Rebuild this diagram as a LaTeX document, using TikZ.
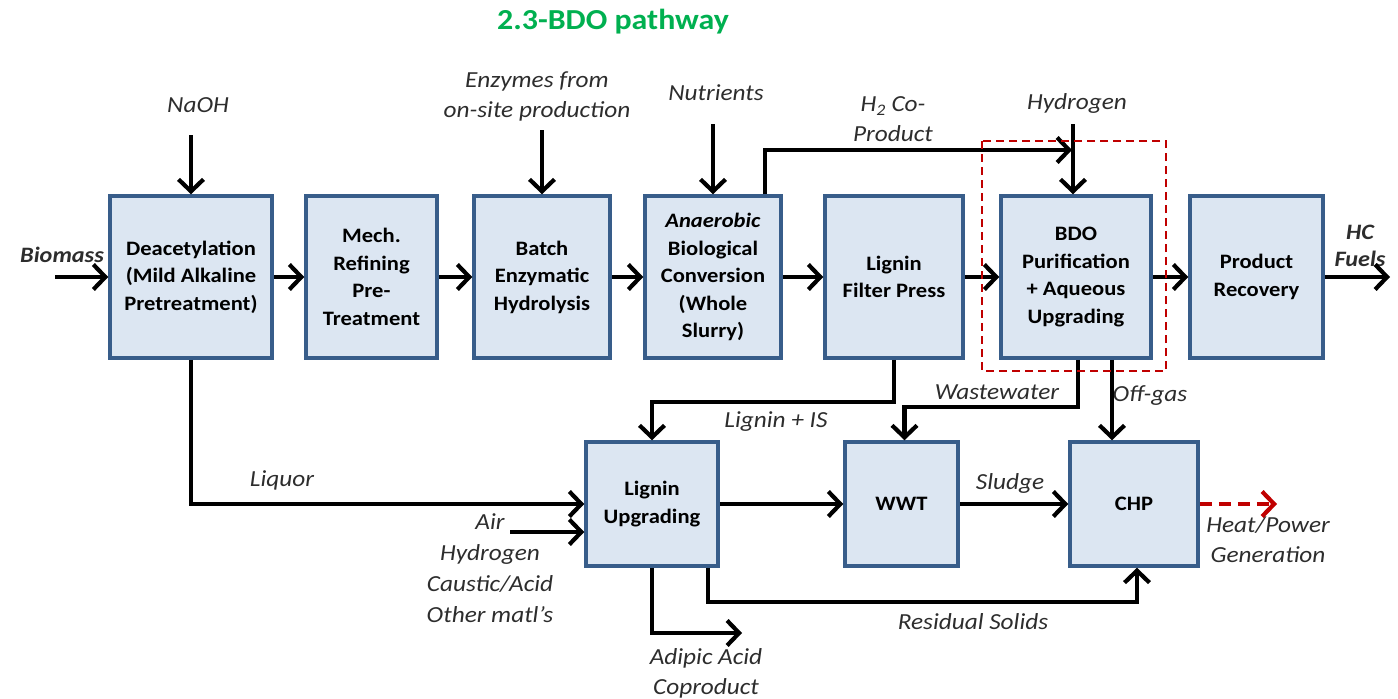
\documentclass[tikz,border=0pt]{standalone}
\usepackage{fontspec}
\setmainfont{Carlito}[FakeStretch=1.1]
\usetikzlibrary{arrows.meta}
\definecolor{boxfill}{RGB}{220,230,242}
\definecolor{boxline}{RGB}{56,93,138}
\definecolor{titlegreen}{RGB}{0,176,80}
\definecolor{lblgray}{RGB}{45,45,45}
\definecolor{dred}{RGB}{192,0,0}
\begin{document}
\begin{tikzpicture}[x=1pt,y=-1pt,
  proc/.style={draw=boxline, fill=boxfill, line width=3.5pt, inner sep=0pt, align=center,
    font=\fontsize{20.5}{27.5}\selectfont\bfseries, text=black},
  lbl/.style={font=\fontsize{23}{30}\selectfont\itshape, text=lblgray, align=center, inner sep=0pt},
  arr/.style={line width=4.2pt, -{Straight Barb[length=12pt,width=25pt]}},
  redarr/.style={dred, line width=4.2pt, dash pattern=on 12pt off 7pt, -{Straight Barb[length=12pt,width=25pt]}},
  reddash/.style={dred, line width=2pt, dash pattern=on 8pt off 5pt}
]
\useasboundingbox (0,0) rectangle (1398,699);

% title
\node[font=\fontsize{29}{32}\selectfont\bfseries, text=titlegreen] (title) at (613,22) {2.3-BDO pathway};

% top row boxes
\node[proc, minimum width=162pt, minimum height=162pt] (deac) at (191,277) {Deacetylation\\(Mild Alkaline\\Pretreatment)};
\node[proc, minimum width=131pt, minimum height=162pt] (mech) at (371.5,277) {Mech.\\Refining\\Pre-\\Treatment};
\node[proc, minimum width=136pt, minimum height=162pt] (batch) at (542,277) {Batch\\Enzymatic\\Hydrolysis};
\node[proc, minimum width=136pt, minimum height=162pt] (anaer) at (713,277) {\textit{Anaerobic}\\Biological\\Conversion\\(Whole\\Slurry)};
\node[proc, minimum width=138pt, minimum height=162pt] (lfp) at (894,277) {Lignin\\Filter Press};
\node[proc, minimum width=150pt, minimum height=162pt] (bdo) at (1076,277) {BDO\\Purification\\+ Aqueous\\Upgrading};
\node[proc, minimum width=133pt, minimum height=162pt] (prod) at (1256.5,277) {Product\\Recovery};

% bottom row boxes
\node[proc, minimum width=132pt, minimum height=124pt] (lup) at (652,504) {Lignin\\Upgrading};
\node[proc, minimum width=113pt, minimum height=124pt] (wwt) at (901.5,504) {WWT};
\node[proc, minimum width=128pt, minimum height=124pt] (chp) at (1134,504) {CHP};

% labels
\node[lbl, font=\fontsize{22}{30}\selectfont\bfseries\itshape] (biomass) at (62,255) {Biomass};
\node[lbl] (naoh) at (198,105) {NaOH};
\node[lbl] (enz) at (537,96) {Enzymes from\\on-site production};
\node[lbl] (nutr) at (716,93) {Nutrients};
\node[lbl] (h2) at (893,119) {H\textsubscript{2} Co-\\Product};
\node[lbl] (hyd) at (1077,103) {Hydrogen};
\node[lbl, font=\fontsize{22}{27}\selectfont\bfseries\itshape] (hc) at (1360,246) {HC\\Fuels};
\node[lbl] (ligis) at (776,422) {Lignin + IS};
\node[lbl] (liquor) at (282,480) {Liquor};
\node[lbl] (ww) at (997,392) {Wastewater};
\node[lbl] (offgas) at (1150,396) {Off-gas};
\node[lbl] (sludge) at (1010,483) {Sludge};
\node[lbl] (heat) at (1268,540) {Heat/Power\\Generation};
\node[lbl, font=\fontsize{23}{31}\selectfont\itshape] (air) at (490,568) {Air\\Hydrogen\\Caustic/Acid\\Other matl's};
\node[lbl] (adipic) at (706,673) {Adipic Acid\\Coproduct};
\node[lbl] (resid) at (973,622) {Residual Solids};

% free ends
\coordinate (bioS) at (55,277);
\coordinate (naohS) at (191,135);
\coordinate (enzS) at (542,130);
\coordinate (nutS) at (713,124);
\coordinate (hydS) at (1073,124);
\coordinate (h2E) at (1072,150);
\coordinate (hcE) at (1390,277);
\coordinate (airS) at (510,532);
\coordinate (adE) at (742,633);
\coordinate (heatE) at (1277,504);

% top row flow
\draw[arr] (bioS) -- (deac.west);
\draw[arr] (deac) -- (mech);
\draw[arr] (mech) -- (batch);
\draw[arr] (batch) -- (anaer);
\draw[arr] (anaer) -- (lfp);
\draw[arr] (lfp) -- (bdo);
\draw[arr] (bdo) -- (prod);
\draw[arr] (prod.east) -- (hcE);

% feeds
\draw[arr] (naohS) -- (deac.north);
\draw[arr] (enzS) -- (batch.north);
\draw[arr] (nutS) -- (anaer.north);
\draw[arr] (hydS) -- (hydS |- bdo.north);
\draw[arr] ([xshift=52pt]anaer.north) |- (h2E);

% lower connections
\draw[arr] (lfp.south) -- ++(0,42) -| (lup.north);
\draw[arr] (deac.south) |- (lup.west);
\draw[arr] (airS) -- (airS -| lup.west);
\draw[arr] (lup) -- (wwt);
\draw[arr] (wwt) -- (chp);
\draw[redarr] (chp.east) -- (heatE);
\draw[arr] ([xshift=2pt]bdo.south) -- ++(0,47) -| ([xshift=3pt]wwt.north);
\draw[arr] ([xshift=36pt]bdo.south) -- ([xshift=36pt]bdo.south |- chp.north);
\draw[arr] (lup.south) |- (adE);
\draw[arr] ([xshift=56pt]lup.south) -- ++(0,34) -| ([xshift=3pt]chp.south);

% highlight
\draw[reddash] (982,141) rectangle (1166,371);
\end{tikzpicture}
\end{document}
